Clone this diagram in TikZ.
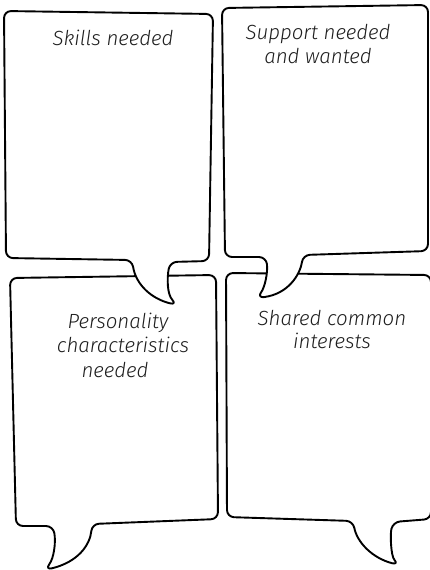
\documentclass[tikz,border=0pt]{standalone}
\usepackage{fontspec}
\newfontfamily\hand{Fira Sans Light Italic}
\definecolor{labelgray}{HTML}{1E1E1E}
\begin{document}
\begin{tikzpicture}[x=1pt,y=-1pt,
  bubble/.style={draw=black, line width=1.9pt, fill=white, rounded corners=7pt, line join=round},
  lbl/.style={font=\hand\fontsize{20.5}{24}\selectfont, text=labelgray, anchor=base, inner sep=0pt}]
\useasboundingbox (0,0) rectangle (430,570);
% lower bubbles first
\draw[bubble] (10,278) -- (216,275) -- (218,519) -- (92,524)
  .. controls (90,545) and (78,562) .. (45,570)
  .. controls (54,558) and (56,542) .. (53,526) -- (16,526) -- cycle;
\draw[bubble] (226,273) -- (431,275) -- (431,519) -- (393,522)
  .. controls (390,535) and (391,556) .. (399,565)
  .. controls (372,558) and (357,542) .. (353,521) -- (227,517) -- cycle;
% upper bubbles on top
\draw[bubble] (4,11) -- (213,14) -- (209,261) -- (170,262)
  .. controls (167,278) and (167,294) .. (177,305)
  .. controls (152,299) and (136,285) .. (132,260) -- (6,258) -- cycle;
\draw[bubble] (222,8) -- (428,5) -- (428,251) -- (303,255)
  .. controls (300,275) and (288,294) .. (257,298)
  .. controls (265,287) and (268,272) .. (266,257) -- (225,257) -- cycle;
% labels
\node[lbl] (s1) at (113,45) {Skills needed};
\node[lbl] (s2a) at (318,39) {Support needed};
\node[lbl] (s2b) at (318,63) {and wanted};
\node[lbl] (p1) at (118,328) {Personality};
\node[lbl] (p2) at (123,352) {characteristics};
\node[lbl] (p3) at (115,377) {needed};
\node[lbl] (c1) at (332,325) {Shared common};
\node[lbl] (c2) at (332,348) {interests};
\end{tikzpicture}
\end{document}
